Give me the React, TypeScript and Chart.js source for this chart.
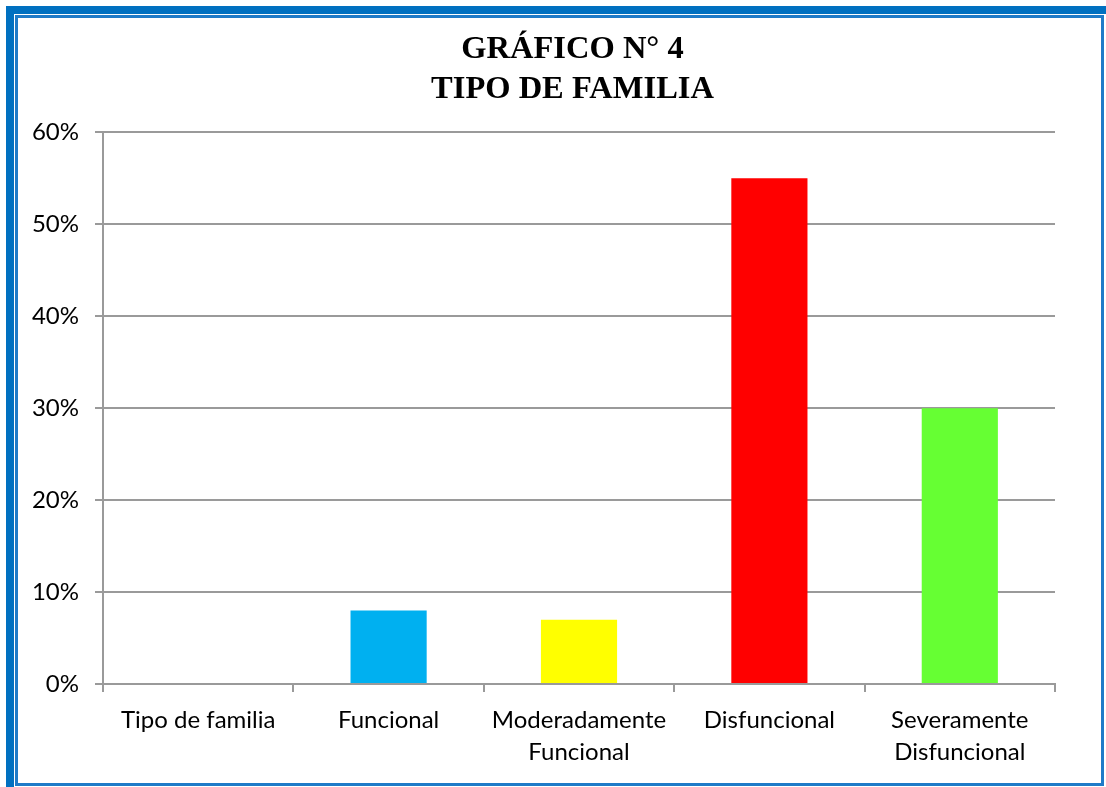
import React, { useEffect, useRef } from "react";
import { Chart, registerables } from "chart.js";

Chart.register(...registerables);

const categories: (string | string[])[] = [
  "Tipo de familia",
  "Funcional",
  ["Moderadamente", "Funcional"],
  "Disfuncional",
  ["Severamente", "Disfuncional"],
];
const values: (number | null)[] = [null, 8, 7, 55, 30];
const barColors = ["#FFFFFF", "#00B0F0", "#FFFF00", "#FF0000", "#66FF33"];
const yTicks = [0, 10, 20, 30, 40, 50, 60];
const titleLines = ["GRÁFICO N° 4", "TIPO DE FAMILIA"];

export default function App() {
  const ref = useRef<HTMLCanvasElement | null>(null);

  useEffect(() => {
    if (!ref.current) return;
    const gridColor = "#9a9a9a";
    const chart = new Chart(ref.current, {
      type: "bar",
      data: {
        labels: categories,
        datasets: [
          {
            data: values,
            backgroundColor: barColors,
            borderWidth: 0,
            barPercentage: 0.4,
            categoryPercentage: 1,
          },
        ],
      },
      options: {
        animation: false,
        responsive: false,
        maintainAspectRatio: false,
        layout: { padding: { left: 0, right: 0, top: 0, bottom: 0 } },
        plugins: {
          legend: { display: false },
          tooltip: { enabled: false },
          title: {
            display: true,
            text: titleLines,
            color: "#000",
            font: { family: "'Liberation Serif', 'Times New Roman', serif", size: 32.5, weight: "bold", lineHeight: 1.25 },
            padding: { top: 11, bottom: 22 },
          },
        },
        scales: {
          x: {
            offset: true,
            grid: {
              display: true,
              drawOnChartArea: false,
              drawTicks: true,
              tickLength: 8,
              offset: true,
              color: gridColor,
              lineWidth: 2,
            },
            border: { display: true, color: gridColor, width: 2 },
            ticks: {
              color: "#000",
              font: { family: "Lato, 'Open Sans', sans-serif", size: 24, lineHeight: 1.33 },
              padding: 12,
              maxRotation: 0,
              autoSkip: false,
            },
            afterFit: (scale: any) => {
              scale.height = 99;
            },
          },
          y: {
            min: 0,
            max: 60,
            afterBuildTicks: (scale: any) => {
              scale.ticks = yTicks.map((v) => ({ value: v }));
            },
            grid: {
              color: gridColor,
              lineWidth: 2,
              tickLength: 8,
            },
            border: { display: true, color: gridColor, width: 2 },
            ticks: {
              color: "#000",
              font: { family: "Lato, 'Open Sans', sans-serif", size: 24 },
              padding: 16,
              callback: (v: any) => v + "%",
            },
            afterFit: (scale: any) => {
              scale.width = 85;
            },
          },
          spacer: {
            type: "linear",
            position: "right",
            display: true,
            grid: { display: false, drawOnChartArea: false },
            border: { display: false },
            ticks: { display: false },
            afterFit: (scale: any) => {
              scale.width = 72;
            },
          },
        },
      },
    });
    return () => chart.destroy();
  }, []);

  return (
    <div style={{ position: "fixed", left: 0, top: 0, width: 1106, height: 787, background: "#fff", overflow: "hidden" }}>
      <canvas
        ref={ref}
        width={1109}
        height={765}
        style={{ position: "absolute", left: 18, top: 18, width: 1109, height: 765 }}
      />
      <div
        style={{
          position: "absolute",
          left: 6,
          top: 6,
          width: 1110,
          height: 790,
          borderTop: "8px solid #0070C0",
          borderLeft: "8px solid #0070C0",
          boxSizing: "border-box",
          zIndex: 2,
        }}
      />
      <div
        style={{
          position: "absolute",
          left: 15,
          top: 15,
          width: 1089,
          height: 771,
          border: "3px solid #1F7BC8",
          boxSizing: "border-box",
          zIndex: 2,
        }}
      />
    </div>
  );
}
